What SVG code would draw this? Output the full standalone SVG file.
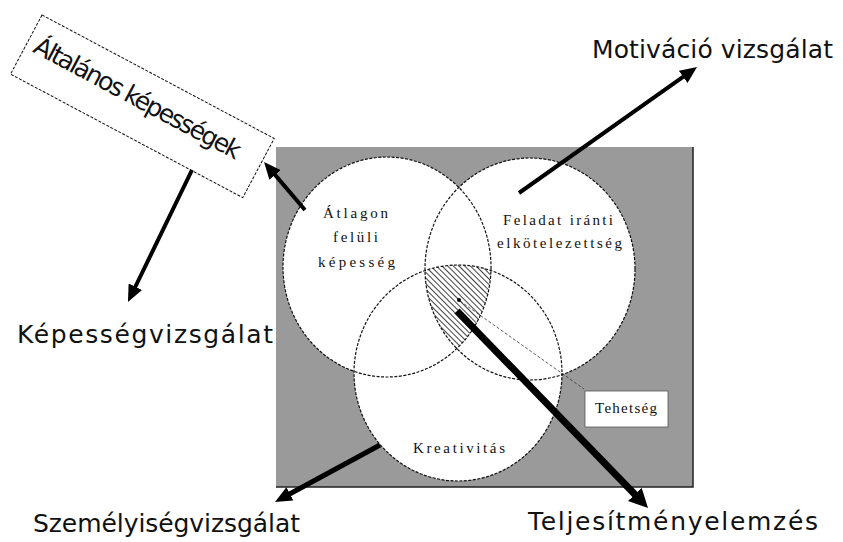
<svg xmlns="http://www.w3.org/2000/svg" width="843" height="542" viewBox="0 0 843 542">
<style>
.big{font-family:"DejaVu Sans","Liberation Sans",sans-serif;font-size:25px;fill:#111}
.ser{font-family:"Liberation Serif","DejaVu Serif",serif;font-size:15px;fill:#111}
.circ{fill:none;stroke:#111;stroke-width:1.2;stroke-dasharray:3 1.5}
.arr{stroke:#000;fill:none;stroke-linecap:butt}
</style>
<defs>
<marker id="ah" markerUnits="userSpaceOnUse" markerWidth="19" markerHeight="15" refX="2" refY="7.5" orient="auto">
<path d="M0,0 L17,7.5 L0,15 z" fill="#000"/>
</marker>
<marker id="ahb" markerUnits="userSpaceOnUse" markerWidth="21" markerHeight="19" refX="2" refY="9.5" orient="auto">
<path d="M0,0 L19,9.5 L0,19 z" fill="#000"/>
</marker>
<pattern id="hatch" width="4" height="4" patternUnits="userSpaceOnUse" patternTransform="rotate(-45)">
<rect width="4" height="4" fill="#fff"/>
<line x1="0" y1="0" x2="0" y2="4" stroke="#111" stroke-width="1.6"/>
</pattern>
<clipPath id="cA"><ellipse cx="387" cy="267" rx="104" ry="110"/></clipPath>
<clipPath id="cB"><ellipse cx="530" cy="269" rx="105" ry="111"/></clipPath>
</defs>

<g id="background">
<rect x="276" y="147" width="417" height="340" fill="#9a9a9a"/>
<polyline points="693,147 693,487 276,487" fill="none" stroke="#222" stroke-width="1.5"/>
</g>

<g id="circles-fill">
<ellipse cx="387" cy="267" rx="104" ry="110" fill="#fff"/>
<ellipse cx="530" cy="269" rx="105" ry="111" fill="#fff"/>
<ellipse cx="458" cy="373" rx="104" ry="108" fill="#fff"/>
</g>

<g id="tehetseg-region">
<g clip-path="url(#cA)"><g clip-path="url(#cB)">
<ellipse cx="458" cy="373" rx="104" ry="108" fill="url(#hatch)"/>
</g></g>
<circle cx="459" cy="300" r="2" fill="#000"/>
</g>

<g id="node-atlagon">
<ellipse class="circ" cx="387" cy="267" rx="104" ry="110"/>
<text class="ser" x="323" y="218" textLength="65">Átlagon</text>
<text class="ser" x="333" y="242" textLength="45">felüli</text>
<text class="ser" x="318" y="267" textLength="77">képesség</text>
</g>

<g id="node-feladat">
<ellipse class="circ" cx="530" cy="269" rx="105" ry="111"/>
<text class="ser" x="503" y="225" textLength="110">Feladat iránti</text>
<text class="ser" x="497" y="248" textLength="125">elkötelezettség</text>
</g>

<g id="node-kreativitas">
<ellipse class="circ" cx="458" cy="373" rx="104" ry="108"/>
<text class="ser" x="413" y="453" textLength="92">Kreativitás</text>
</g>

<g id="node-tehetseg">
<rect x="585" y="391" width="83" height="36" fill="#fff" stroke="#555" stroke-width="0.8"/>
<text class="ser" x="595" y="413" font-size="12" textLength="62">Tehetség</text>
</g>

<g id="node-altalanos">
<g transform="translate(42,15) rotate(28)">
<rect x="0" y="0" width="263" height="67" fill="#fff" stroke="#111" stroke-width="1" stroke-dasharray="3 1.5"/>
<text class="big" x="8" y="37" font-size="21" textLength="231">Általános képességek</text>
</g>
</g>

<g id="labels">
<text class="big" x="592" y="58" textLength="241">Motiváció vizsgálat</text>
<text class="big" x="17" y="343" textLength="256">Képességvizsgálat</text>
<text class="big" x="33" y="532" textLength="267">Személyiségvizsgálat</text>
<text class="big" x="528" y="530" textLength="290">Teljesítményelemzés</text>
</g>

<g id="connectors">
<line x1="460" y1="301" x2="584" y2="389" stroke="#333" stroke-width="0.8" stroke-dasharray="3 2"/>
<line class="arr" x1="519" y1="193" x2="684.8" y2="75.7" stroke-width="4" marker-end="url(#ah)"/>
<line class="arr" x1="192" y1="170" x2="134.5" y2="288.5" stroke-width="4" marker-end="url(#ah)"/>
<line class="arr" x1="305" y1="210" x2="273.8" y2="173.4" stroke-width="4" marker-end="url(#ah)"/>
<line class="arr" x1="380" y1="445" x2="288.2" y2="494.8" stroke-width="5" marker-end="url(#ah)"/>
<line class="arr" x1="457" y1="311" x2="636.2" y2="495.8" stroke-width="7" marker-end="url(#ahb)"/>
</g>
</svg>
